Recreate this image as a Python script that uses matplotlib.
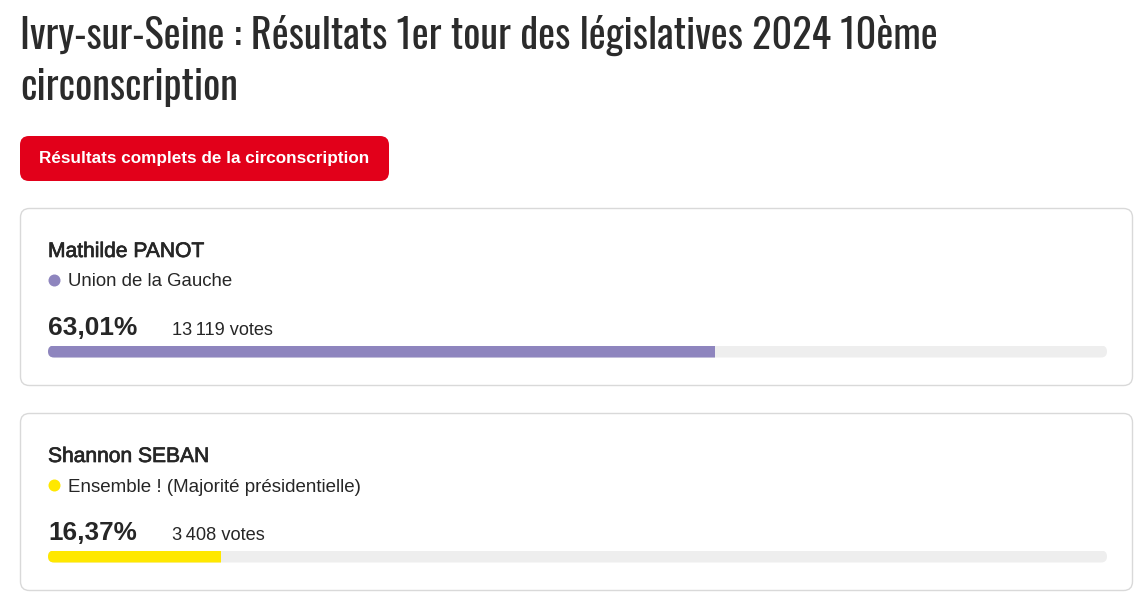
import matplotlib
matplotlib.use("Agg")
import matplotlib.pyplot as plt
import matplotlib.patheffects as pe
from matplotlib.patches import FancyBboxPatch, Circle

# ---- data ----
title_line1 = "Ivry-sur-Seine : Résultats 1er tour des législatives 2024 10ème"
title_line2 = "circonscription"
button_label = "Résultats complets de la circonscription"
candidates = ["Mathilde PANOT", "Shannon SEBAN"]
parties = ["Union de la Gauche", "Ensemble ! (Majorité présidentielle)"]
percentages = [63.01, 16.37]
votes = [13119, 3408]
colors = ["#8e85be", "#ffe800"]

W, H = 1143, 602
fig = plt.figure(figsize=(W / 100, H / 100), dpi=100)
fig.patch.set_facecolor("white")
ax = fig.add_axes([0, 0, 1, 1])
ax.set_xlim(0, W)
ax.set_ylim(H, 0)
ax.axis("off")

renderer = fig.canvas.get_renderer()

SANS = ["Liberation Sans", "Arial", "DejaVu Sans"]
TITLE_FONT = ["Oswald", "Liberation Sans Narrow", "DejaVu Sans Condensed", "Roboto Condensed", "Liberation Sans", "DejaVu Sans"]
TXT = "#262626"
thicken = [pe.withStroke(linewidth=0.5, foreground=TXT)]


def fit(t, target_w):
    bb = t.get_window_extent(renderer)
    t.set_fontsize(t.get_fontsize() * target_w / bb.width)
    return t.get_fontsize()


# ---- title ----
t1 = ax.text(20, 49, title_line1, fontsize=30, family=TITLE_FONT, color="#2b2b2b", va="baseline", ha="left")
fs = fit(t1, 917)
ax.text(20, 100, title_line2, fontsize=fs, family=TITLE_FONT, color="#2b2b2b", va="baseline", ha="left")

# ---- button ----
ax.add_patch(FancyBboxPatch((20, 136), 369, 45, boxstyle="round,pad=0,rounding_size=9",
                            fc="#e2001a", ec="none", zorder=2))
bt = ax.text(204.5, 158.5, button_label, fontsize=12, family=SANS, weight="bold", color="white",
             ha="center", va="center", zorder=3)
fit(bt, 328)

# ---- cards ----
card_tops = [208, 413]
for i, top in enumerate(card_tops):
    off = top - 208
    ax.add_patch(FancyBboxPatch((20.5, top + 0.5), 1112, 177, boxstyle="round,pad=0,rounding_size=9",
                                fc="white", ec="#d9d9d9", lw=1.0, zorder=1))
    name_w = [157, 162][i]
    t = ax.text(48, 257 + off, candidates[i], fontsize=14, family=SANS, color=TXT,
                va="baseline", ha="left", zorder=3, path_effects=thicken)
    fit(t, name_w)
    ax.add_patch(Circle((54.5, 280.5 + off), 6, fc=colors[i], ec="none", zorder=3))
    party_w = [164, 294][i]
    t = ax.text(68, 286.5 + off, parties[i], fontsize=13, family=SANS, color=TXT,
                va="baseline", ha="left", zorder=3)
    fit(t, party_w)
    pct_txt = f"{percentages[i]:.2f}".replace(".", ",") + "%"
    t = ax.text(48, 335 + off, pct_txt, fontsize=18, family=SANS, weight="bold", color=TXT,
                va="baseline", ha="left", zorder=3)
    fit(t, 89)
    v = f"{votes[i]:,}".replace(",", "\u2009") + " votes"
    t = ax.text(172, 335 + off, v, fontsize=12, family=SANS, color=TXT,
                va="baseline", ha="left", zorder=3)
    fit(t, [101, 93][i])

    # progress bar in its own axes with a 0..100 scale
    y0 = 345.5 + off
    bh = 12
    bax = fig.add_axes([48 / W, 1 - (y0 + bh) / H, 1059 / W, bh / H])
    bax.set_xlim(0, 100)
    bax.set_ylim(-0.5, 0.5)
    bax.axis("off")
    clip = FancyBboxPatch((48, y0), 1059, bh, boxstyle="round,pad=0,rounding_size=6",
                          transform=ax.transData, fc="none", ec="none")
    track = bax.barh(0, 100, height=1, color="#eeeeee", linewidth=0)
    fill = bax.barh(0, percentages[i], height=1, color=colors[i], linewidth=0)
    for b in list(track) + list(fill):
        b.set_clip_path(clip)

fig.savefig("out.png", dpi=100, facecolor="white")
